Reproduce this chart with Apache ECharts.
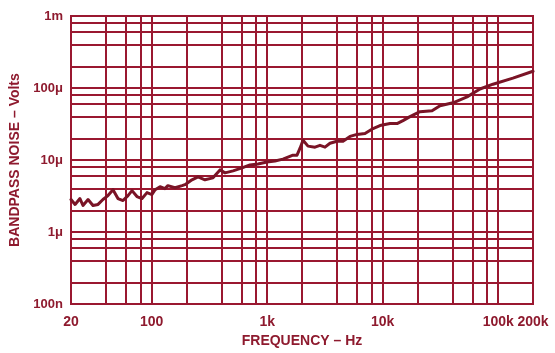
<!DOCTYPE html>
<html><head><meta charset="utf-8">
<script src="https://cdn.jsdelivr.net/npm/echarts@6/dist/echarts.min.js"></script>
<style>html,body{margin:0;padding:0;background:#fff}#c{width:555px;height:353px}</style>
</head><body><div id="c"></div>
<script>
// Frequency (Hz)
const freqHz = [20, 21.7, 23.9, 25.4, 28.1, 31, 34.3, 37.8, 41.8, 46.2, 51, 56.4, 62.3, 67.5, 74.5,
  82.4, 91, 100.5, 107, 118, 130, 138, 159, 183, 194, 223, 252, 289, 339, 390, 431, 506, 605, 709, 832,
  995, 1167, 1368, 1671, 1811, 1923, 2042, 2254, 2592, 2863, 3164, 3495, 4017, 4529, 5208,
  5988, 7022, 8240, 9470, 11560, 13300, 14970, 17220, 21030, 26730, 31330, 40580, 53700, 69500, 90100,
  134000, 200000];
// Bandpass noise (microvolts)
const noiseMicroV = [2.83, 2.42, 2.92, 2.34, 2.83, 2.34, 2.42, 2.83, 3.21, 3.88, 2.92, 2.74, 3.21, 3.76, 3.11,
  2.92, 3.53, 3.32, 3.88, 4.27, 4.01, 4.41, 4.13, 4.41, 4.55, 5.32, 5.85, 5.32, 5.66, 7.30, 6.64, 7.07, 7.77, 8.55, 8.81,
  9.40, 9.69, 10.3, 11.7, 11.7, 14.6, 18.8, 15.6, 15.1, 16.0, 15.1, 17.1, 18.2, 18.2, 21.3,
  22.7, 23.4, 27.4, 30.1, 32.1, 32.1, 35.3, 40.1, 46.9, 48.4, 56.7, 62.3, 75.3, 96.9, 113,
  137, 171];
// Y tick labels, decades 1e-7 .. 1e-3
const yTickLabels = ['100n', '1μ', '10μ', '100μ', '1m'];
const xMin = 20, xMax = 200000, yMin = 1e-7, yMax = 1e-3;

const gridColor = '#9a1830';
const textColor = '#8e1a2e';
const lineColor = '#7a1426';

// minor grid lines at 2,4,6,8 of each decade
const xMinor = [];
for (let d = 10; d <= 100000; d *= 10) for (const m of [2, 4, 6, 8]) { const v = m * d; if (v > xMin && v < xMax) xMinor.push(v); }
const yMinor = [];
for (let e = -7; e <= -4; e++) for (const m of [2, 4, 6, 8]) yMinor.push(m * Math.pow(10, e));

const data = freqHz.map((f, i) => [f, noiseMicroV[i] * 1e-6]);

const chart = echarts.init(document.getElementById('c'), null, {renderer: 'canvas'});
const font = '"Liberation Sans", Arial, Helvetica, sans-serif';
const minorStyle = {color: gridColor, width: 2, type: 'solid'};
chart.setOption({
  animation: false,
  backgroundColor: '#fff',
  grid: {left: 71, right: 22, top: 16, bottom: 45, show: true, borderColor: gridColor, borderWidth: 2, backgroundColor: 'transparent'},
  xAxis: {
    type: 'log', logBase: 10, min: xMin, max: xMax,
    name: 'FREQUENCY – Hz', nameLocation: 'middle', nameGap: 29,
    nameTextStyle: {color: textColor, fontWeight: 'bold', fontSize: 14, fontFamily: font},
    axisLine: {show: true, lineStyle: {color: gridColor, width: 2}},
    axisTick: {show: false},
    axisLabel: {color: textColor, fontWeight: 'bold', fontSize: 14, fontFamily: font, margin: 11,
      showMinLabel: true, showMaxLabel: true,
      formatter: v => { const r = Math.round(v); return r >= 1000 ? (r / 1000) + 'k' : String(r); }},
    splitLine: {show: true, lineStyle: {color: gridColor, width: 2}},
    minorTick: {show: false}, minorSplitLine: {show: false}
  },
  yAxis: {
    type: 'log', logBase: 10, min: yMin, max: yMax,
    name: 'BANDPASS NOISE – Volts', nameLocation: 'middle', nameGap: 48,
    nameTextStyle: {color: textColor, fontWeight: 'bold', fontSize: 14, fontFamily: font},
    axisLine: {show: true, lineStyle: {color: gridColor, width: 2}},
    axisTick: {show: false},
    axisLabel: {color: textColor, fontWeight: 'bold', fontSize: 13, fontFamily: font, margin: 8,
      showMinLabel: true, showMaxLabel: true, padding: [4, 0, 0, 0],
      formatter: v => yTickLabels[Math.round(Math.log10(v)) + 7] || ''},
    splitLine: {show: true, lineStyle: {color: gridColor, width: 2}}
  },
  series: [
    {
      type: 'line', data: data, z: 1, silent: true, showSymbol: false,
      lineStyle: {opacity: 0},
      markLine: {
        silent: true, symbol: 'none', animation: false, precision: 15,
        label: {show: false},
        lineStyle: minorStyle,
        emphasis: {disabled: true},
        data: xMinor.map(v => ({xAxis: v})).concat(yMinor.map(v => ({yAxis: v})))
      }
    },
    {
      type: 'line', data: data, z: 10, showSymbol: false, smooth: false, silent: true,
      lineStyle: {color: lineColor, width: 3, join: 'round', cap: 'round'}
    }
  ]
});
</script>
</body></html>
